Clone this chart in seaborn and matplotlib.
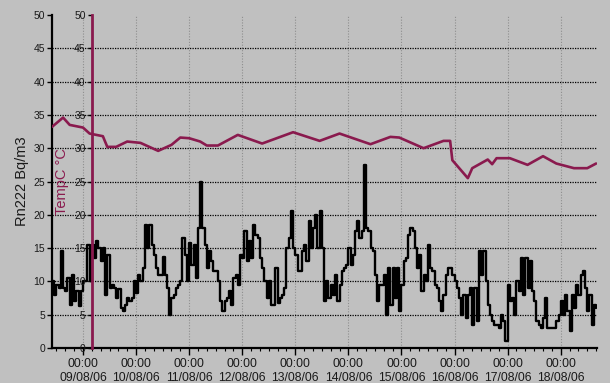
import numpy as np
import pandas as pd
import matplotlib
matplotlib.use('Agg')
import matplotlib.pyplot as plt
import matplotlib.dates as mdates
import seaborn as sns

# ---------------- data ----------------
day0 = '2006-08-09 00:00'          # first labelled midnight
radon_start = '2006-08-08 10:00'   # hourly radon readings start here
radon_values = [
    10, 8, 9.5, 9, 14.5, 9, 8.5, 10.5, 6.5, 11, 7, 8.5, 6.3, 8.5,
    10, 10, 15.5, 10, 15.5, 13.5, 16, 15, 13, 15, 8, 14, 9, 9.5, 9, 7.5, 8.8, 6, 5.5, 6.5, 7.5, 7, 7.5, 10,
    8.3, 11, 10, 12,
    18.5, 15, 18.5, 15.5, 14, 12, 11, 11, 13.7, 11, 9, 5, 7.5, 8, 9, 9.5, 10, 16.5, 14, 10,
    15.7, 12.5, 15.5, 10.5, 18, 25, 18, 15.5, 12, 14.5, 13, 11.5, 11.5, 10, 7, 5.5, 7, 7.5, 8.5, 6.5, 10.5,
    11, 9.5, 14, 13.5, 17.5, 13, 16, 13.5, 18.5, 17, 16.5, 13.5, 12, 10, 7.5, 10, 6.5, 6.5, 12, 6.7,
    7.5, 8, 9, 15, 16.5, 20.5, 15, 14, 11.5, 11.5, 14.5, 15.5, 13, 19, 15, 18, 20, 15, 20.5,
    15, 7, 10, 7.5, 9.5, 8, 11, 7, 9.5, 11.5, 12, 12.5, 15, 12.5, 14, 17.5, 19, 16.5, 17.5, 27.5,
    18, 17.5, 15, 14.5, 11, 7, 9.5, 9.5, 11, 5, 12, 6.5, 12, 7.5, 12, 5.5, 9.5, 13, 13.5, 17,
    18, 17.5, 15, 12, 14, 8.5, 11, 10, 15.5, 12, 11.5, 9.5, 9, 7, 5.5, 8, 11, 12, 12, 11,
    10, 9, 7.5, 5, 8, 4.5, 8, 9, 3.5, 9, 4, 14.5, 11, 14.5, 10, 6.5, 5, 4, 3.5, 3.5, 3,
    5, 4, 1, 9.5, 7, 7.5, 5, 10, 8.5, 13.5, 8, 13.5, 9, 13, 8.5, 7, 4, 3.5, 3, 4.5, 7.5, 3,
    3, 3, 3, 4, 5, 7, 5, 8, 5.5, 2.5, 8, 6, 9.5, 8, 11, 11.5, 9, 5.5, 8, 3.5, 6.5, 6,
]
temp_hours = [-14, -9, -6, 0, 3, 9, 11, 15, 20, 26, 34, 40, 44, 48, 53, 56, 61, 70, 81,
              95, 107, 116, 130, 139, 143, 154, 163, 166, 167, 174, 176, 183, 185, 187,
              193, 201, 208, 214, 222, 228, 232]
temp_values = [33.2, 34.6, 33.5, 33.1, 32.2, 31.8, 30.2, 30.2, 31.0, 30.8, 29.6, 30.5, 31.6,
               31.5, 31.0, 30.4, 30.4, 32.0, 30.7, 32.4, 31.1, 32.2, 30.6, 31.7, 31.6, 30.0,
               31.1, 31.1, 28.2, 25.5, 27.0, 28.3, 27.6, 28.5, 28.5, 27.5, 28.8, 27.7, 27.0,
               27.0, 27.7]
y_ticks = [0, 5, 10, 15, 20, 25, 30, 35, 40, 45, 50]
radon_label = 'Rn222 Bq/m3'
temp_label = 'TempC °C'

# ---------------- frames ----------------
base = pd.Timestamp(day0)
rdf = pd.DataFrame({'time': pd.date_range(radon_start, periods=len(radon_values), freq='h'),
                    'rn': radon_values})
tdf = pd.DataFrame({'time': base + pd.to_timedelta(temp_hours, unit='h'),
                    'temp': temp_values})

# ---------------- style ----------------
sns.set_style('white')
plt.rcParams['font.family'] = ['Liberation Sans', 'DejaVu Sans']
bg = '#c0c0c0'
maroon = '#8a1a4e'
narrow = ['Liberation Sans Narrow', 'Liberation Sans', 'DejaVu Sans']

W, H = 610, 383
fig = plt.figure(figsize=(W / 100, H / 100), dpi=100, facecolor=bg)
ax = fig.add_axes([52 / W, 35 / H, 545 / W, 333 / H])
ax.set_facecolor(bg)

sns.lineplot(data=rdf, x='time', y='rn', ax=ax, color='black', lw=1.7,
             drawstyle='steps-post', estimator=None, zorder=3)

ax.set_ylim(0, 50)
ax.set_yticks(y_ticks)
ax.set_xlim(base - pd.Timedelta(hours=14), base + pd.Timedelta(hours=232.4))

ax.xaxis.set_major_locator(mdates.DayLocator())
ax.xaxis.set_major_formatter(mdates.DateFormatter('%H:%M\n%d/%m/%y'))
ax.xaxis.set_minor_locator(mdates.HourLocator(byhour=range(0, 24, 4)))

for s in ['top', 'right']:
    ax.spines[s].set_visible(False)
for s in ['left', 'bottom']:
    ax.spines[s].set_color('black')
    ax.spines[s].set_linewidth(1.6)

ax.tick_params(axis='y', direction='out', length=3.6, width=1, color='black',
               pad=1.5, labelsize=7.5, labelcolor='#1a1a1a', left=True)
ax.tick_params(axis='x', which='major', direction='out', length=5, width=1,
               color='black', pad=2.5, labelsize=8.8, labelcolor='#1a1a1a', bottom=True)
ax.tick_params(axis='x', which='minor', direction='out', length=2.5, width=0.8,
               color='black', bottom=True)
for lab in ax.get_xticklabels():
    lab.set_family(narrow)
    lab.set_linespacing(1.2)

ax.yaxis.grid(True, color='black', ls=(0, (1, 1)), lw=0.9)
ax.xaxis.grid(True, which='major', color='#8e8e8e', ls=(0, (1, 1.5)), lw=0.8)
ax.set_axisbelow(True)
for gl, t in zip(ax.get_ygridlines(), y_ticks):
    if t in (0, 50):
        gl.set_visible(False)

ax.set_xlabel('')
ax.set_ylabel(radon_label, fontsize=10.5, color='#1a1a1a')
ax.yaxis.set_label_coords(-0.043, 0.5)

# ---------------- temperature axis ----------------
ax2 = ax.twinx()
sns.lineplot(data=tdf, x='time', y='temp', ax=ax2, color=maroon, lw=1.9, estimator=None)
ax2.set_ylim(0, 50)
ax2.set_yticks(y_ticks)
ax2.yaxis.tick_left()
ax2.yaxis.set_label_position('left')
for s in ['top', 'right', 'bottom']:
    ax2.spines[s].set_visible(False)
ax2.spines['left'].set_position(('axes', 40 / 545))
ax2.spines['left'].set_color(maroon)
ax2.spines['left'].set_linewidth(2)
ax2.tick_params(axis='y', direction='out', length=3, width=1, color='black',
                pad=1.5, labelsize=7.5, labelcolor='#1a1a1a')
ax2.set_xlabel('')
ax2.set_ylabel(temp_label, fontsize=10.5, color=maroon)
ax2.yaxis.set_label_coords(0.031, 0.5)
ax2.set_xlim(ax.get_xlim())

fig.savefig('out.png', dpi=100, facecolor=bg)
